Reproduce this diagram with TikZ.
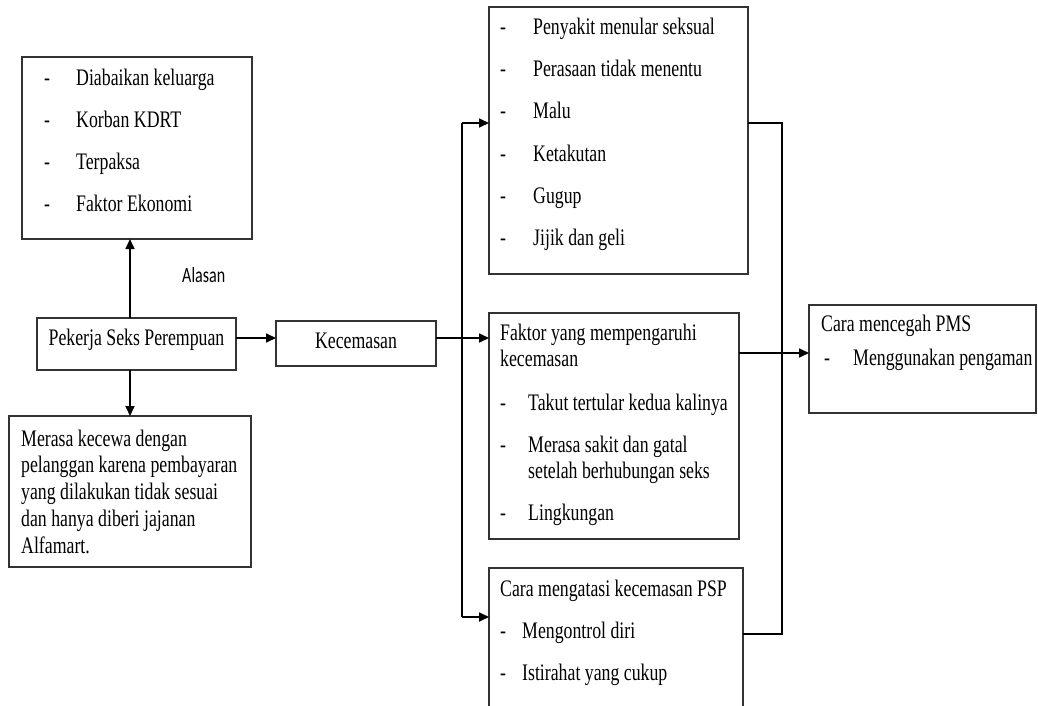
\documentclass[tikz,border=0pt]{standalone}
\usepackage{fontspec}
\setmainfont{Liberation Serif}[FakeStretch=0.75]
\newfontfamily\calib{Carlito}[FakeStretch=0.74]
\usetikzlibrary{arrows.meta}
\begin{document}
\begin{tikzpicture}[x=1pt,y=-1pt,
  box/.style={draw=black!80,line width=1.6pt,rectangle,inner sep=0pt,outer sep=0pt},
  conn/.style={line width=1.7pt,draw=black},
  arr/.style={conn,-{Triangle[length=10pt,width=9pt]}},
  txt/.style={anchor=base west,inner sep=0pt,font=\fontsize{23.7}{27.2}\selectfont},
  ctxt/.style={txt,anchor=base},
  lbl/.style={anchor=base west,inner sep=0pt,font=\calib\fontsize{21.7}{26}\selectfont}]
\clip (0,0) rectangle (1038,706);
\fill[white] (0,0) rectangle (1038,706);
% boxes
\node[box,minimum width=230pt,minimum height=182pt] (A) at (137,148) {};
\node[box,minimum width=199pt,minimum height=52pt] (psp) at (136.5,344) {};
\node[box,minimum width=242pt,minimum height=151pt] (C) at (130,491.5) {};
\node[box,minimum width=160pt,minimum height=45pt] (kec) at (356,343.5) {};
\node[box,minimum width=259pt,minimum height=267pt] (D) at (618.5,140.5) {};
\node[box,minimum width=250pt,minimum height=226pt] (E) at (614,426) {};
\node[box,minimum width=227pt,minimum height=108pt] (F) at (922.5,359) {};
\node[box,minimum width=254pt,minimum height=162pt] (G) at (616,649) {};
% box A
\node[txt] (a1d) at (44,85.5) {-};  \node[txt] (a1) at (76,85.5) {Diabaikan keluarga};
\node[txt] (a2d) at (44,127.5) {-}; \node[txt] (a2) at (76,127.5) {Korban KDRT};
\node[txt] (a3d) at (44,169.5) {-}; \node[txt] (a3) at (76,169.5) {Terpaksa};
\node[txt] (a4d) at (44,211.5) {-}; \node[txt] (a4) at (76,211.5) {Faktor Ekonomi};
% PSP and Kecemasan
\node[ctxt] (psptext) at (136.5,345) {Pekerja Seks Perempuan};
\node[ctxt] (kectext) at (356,348) {Kecemasan};
% box C
\node[txt] (c1) at (21,446) {Merasa kecewa dengan};
\node[txt] (c2) at (21,472.75) {pelanggan karena pembayaran};
\node[txt] (c3) at (21,499.5) {yang dilakukan tidak sesuai};
\node[txt] (c4) at (21,526.25) {dan hanya diberi jajanan};
\node[txt] (c5) at (21,553) {Alfamart.};
% label
\node[lbl] (alasan) at (182,282) {Alasan};
% box D
\node[txt] (d1d) at (500,35) {-};  \node[txt] (d1) at (533,35) {Penyakit menular seksual};
\node[txt] (d2d) at (500,77) {-};  \node[txt] (d2) at (533,77) {Perasaan tidak menentu};
\node[txt] (d3d) at (500,119) {-}; \node[txt] (d3) at (533,119) {Malu};
\node[txt] (d4d) at (500,161) {-}; \node[txt] (d4) at (533,161) {Ketakutan};
\node[txt] (d5d) at (500,203) {-}; \node[txt] (d5) at (533,203) {Gugup};
\node[txt] (d6d) at (500,245) {-}; \node[txt] (d6) at (533,245) {Jijik dan geli};
% box E
\node[txt] (e1) at (500,340.5) {Faktor yang mempengaruhi};
\node[txt] (e2) at (500,366.5) {kecemasan};
\node[txt] (e3d) at (500,410) {-}; \node[txt] (e3) at (528,410) {Takut tertular kedua kalinya};
\node[txt] (e4d) at (500,452) {-}; \node[txt] (e4) at (528,452) {Merasa sakit dan gatal};
\node[txt] (e5) at (528,478) {setelah berhubungan seks};
\node[txt] (e6d) at (500,520) {-}; \node[txt] (e6) at (528,520) {Lingkungan};
% box F
\node[txt] (f1) at (821,331.5) {Cara mencegah PMS};
\node[txt] (f2d) at (824,365) {-}; \node[txt] (f2) at (853,365) {Menggunakan pengaman};
% box G
\node[txt] (g1) at (500,596.5) {Cara mengatasi kecemasan PSP};
\node[txt] (g2d) at (500,638) {-}; \node[txt] (g2) at (522,638) {Mengontrol diri};
\node[txt] (g3d) at (500,680) {-}; \node[txt] (g3) at (522,680) {Istirahat yang cukup};
% helper coordinates
\coordinate (vx) at (130,0);
\coordinate (y337) at (0,338);
\coordinate (L1) at (462,123);
\coordinate (L2) at (462,617);
\coordinate (R1) at (782,123);
\coordinate (R2) at (782,634);
\coordinate (y352) at (0,353);
% connectors
\draw[arr] (psp.north -| vx) -- (A.south -| vx);
\draw[arr] (psp.south -| vx) -- (C.north -| vx);
\draw[arr] (psp.east |- y337) -- (kec.west |- y337);
\draw[arr] (kec.east |- y337) -- (E.west |- y337);
\draw[conn] (L1) -- (L2);
\draw[arr] (L1) -- (D.west |- L1);
\draw[arr] (L2) -- (G.west |- L2);
\draw[conn] (D.east |- R1) -- (R1) -- (R2) -- (G.east |- R2);
\draw[arr] (E.east |- y352) -- (F.west |- y352);
\end{tikzpicture}
\end{document}
